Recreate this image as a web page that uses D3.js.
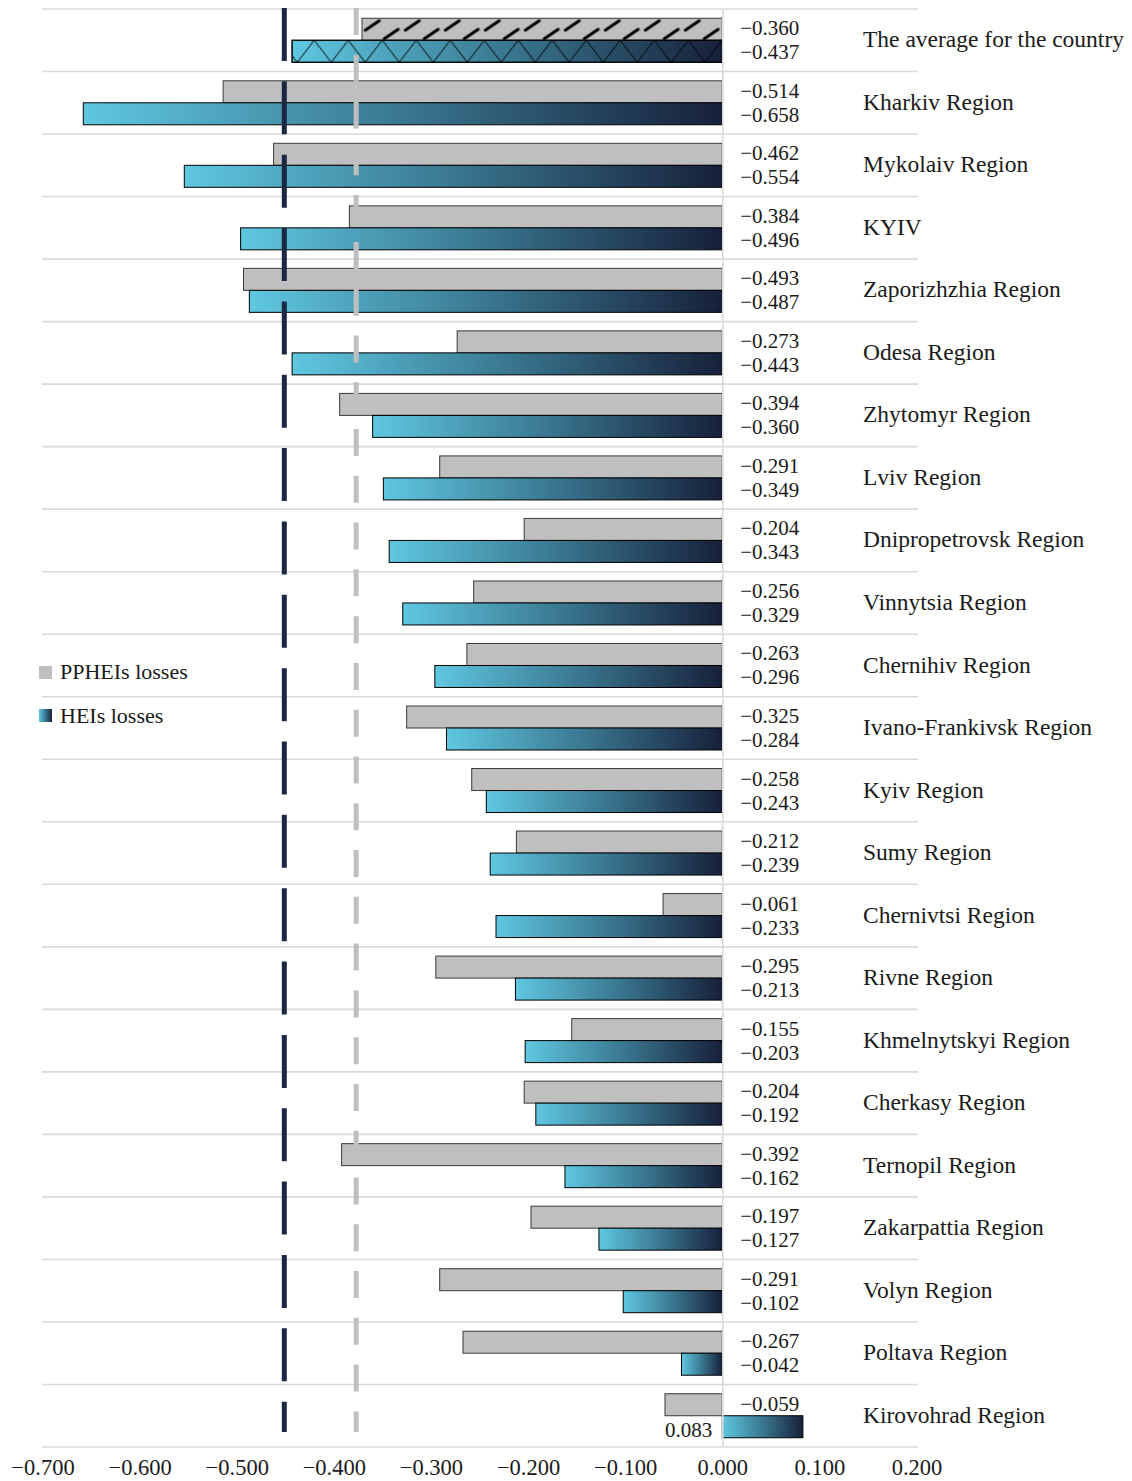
<!DOCTYPE html>
<html><head><meta charset="utf-8">
<script src="https://cdn.jsdelivr.net/npm/d3@7"></script>
<style>
body{margin:0;background:#fff}
svg{display:block}
text{font-family:"Liberation Serif",serif;fill:#1a1a1a}
</style>
</head><body>
<svg id="c" width="1132" height="1481"></svg>
<script>
const categories = ["The average for the country","Kharkiv Region","Mykolaiv Region","KYIV","Zaporizhzhia Region","Odesa Region","Zhytomyr Region","Lviv Region","Dnipropetrovsk Region","Vinnytsia Region","Chernihiv Region","Ivano-Frankivsk Region","Kyiv Region","Sumy Region","Chernivtsi Region","Rivne Region","Khmelnytskyi Region","Cherkasy Region","Ternopil Region","Zakarpattia Region","Volyn Region","Poltava Region","Kirovohrad Region"];
const ppheiValues = [-0.371,-0.514,-0.462,-0.384,-0.493,-0.273,-0.394,-0.291,-0.204,-0.256,-0.263,-0.325,-0.258,-0.212,-0.061,-0.295,-0.155,-0.204,-0.392,-0.197,-0.291,-0.267,-0.059];
const heiValues = [-0.443,-0.658,-0.554,-0.496,-0.487,-0.443,-0.360,-0.349,-0.343,-0.329,-0.296,-0.284,-0.243,-0.239,-0.233,-0.213,-0.203,-0.192,-0.162,-0.127,-0.102,-0.042,0.083];
const ppheiLabels = ["−0.360","−0.514","−0.462","−0.384","−0.493","−0.273","−0.394","−0.291","−0.204","−0.256","−0.263","−0.325","−0.258","−0.212","−0.061","−0.295","−0.155","−0.204","−0.392","−0.197","−0.291","−0.267","−0.059"];
const heiLabels = ["−0.437","−0.658","−0.554","−0.496","−0.487","−0.443","−0.360","−0.349","−0.343","−0.329","−0.296","−0.284","−0.243","−0.239","−0.233","−0.213","−0.203","−0.192","−0.162","−0.127","−0.102","−0.042","0.083"];
const refLineHEI = -0.451;
const refLinePPHEI = -0.377;
const xTicks = [-0.7,-0.6,-0.5,-0.4,-0.3,-0.2,-0.1,0,0.1,0.2];
const seriesNames = ["PPHEIs losses","HEIs losses"];

const svg = d3.select("#c");
const x = d3.scaleLinear().domain([-0.7,0.2]).range([42.5,916.5]);
const plotTop = 9, plotBottom = 1447;
const y = d3.scaleBand().domain(categories).range([plotTop,plotBottom]).padding(0);
const bw = y.bandwidth();
const sub = d3.scaleBand().domain(["pp","hei"]).range([(bw-44)/2,(bw-44)/2+44]).padding(0);
const bh = sub.bandwidth();

const defs = svg.append("defs");
const grad = defs.append("linearGradient").attr("id","heiGrad").attr("x1",0).attr("x2",1).attr("y1",0).attr("y2",0);
grad.append("stop").attr("offset","0%").attr("stop-color","#5fc7e0");
grad.append("stop").attr("offset","50%").attr("stop-color","#3a7790");
grad.append("stop").attr("offset","100%").attr("stop-color","#17203a");

const y0avg = y(categories[0]);
const hatch = defs.append("pattern").attr("id","hatch").attr("patternUnits","userSpaceOnUse")
  .attr("width",40).attr("height",bh).attr("x",x(0)).attr("y",y0avg+sub("pp"));
hatch.append("rect").attr("width",40).attr("height",bh).attr("fill","#bfbfbf");
hatch.append("line").attr("x1",3).attr("y1",12).attr("x2",17).attr("y2",2.5).attr("stroke","#000").attr("stroke-width",3).attr("stroke-linecap","round");
hatch.append("line").attr("x1",22).attr("y1",20.5).attr("x2",36).attr("y2",11).attr("stroke","#000").attr("stroke-width",3).attr("stroke-linecap","round");

const cross = defs.append("pattern").attr("id","cross").attr("patternUnits","userSpaceOnUse")
  .attr("width",34).attr("height",bh*2).attr("x",x(0)).attr("y",y0avg+sub("hei"));
cross.append("line").attr("x1",0).attr("y1",0).attr("x2",34).attr("y2",bh*2).attr("stroke","#000").attr("stroke-width",1);
cross.append("line").attr("x1",34).attr("y1",0).attr("x2",0).attr("y2",bh*2).attr("stroke","#000").attr("stroke-width",1);

const gridYs = categories.map(c=>y(c)).concat([plotBottom]);
svg.append("g").selectAll("line").data(gridYs).join("line")
  .attr("x1",42).attr("x2",918).attr("y1",d=>d).attr("y2",d=>d)
  .attr("stroke","#d9d9d9").attr("stroke-width",1.6);

const rows = categories.map((c,i)=>({c,i,pp:ppheiValues[i],hei:heiValues[i],ppl:ppheiLabels[i],heil:heiLabels[i]}));
const g = svg.append("g");
g.selectAll("rect.pp").data(rows).join("rect").attr("class","pp")
  .attr("x",d=>x(Math.min(0,d.pp))).attr("width",d=>Math.abs(x(d.pp)-x(0)))
  .attr("y",d=>y(d.c)+sub("pp")).attr("height",bh)
  .attr("fill",d=>d.i===0?"url(#hatch)":"#bfbfbf").attr("stroke","#3a3a3a").attr("stroke-width",1);
g.selectAll("rect.hei").data(rows).join("rect").attr("class","hei")
  .attr("x",d=>x(Math.min(0,d.hei))).attr("width",d=>Math.abs(x(d.hei)-x(0)))
  .attr("y",d=>y(d.c)+sub("hei")).attr("height",bh)
  .attr("fill","url(#heiGrad)").attr("stroke","#000").attr("stroke-width",1);
g.selectAll("rect.crossov").data(rows.filter(d=>d.i===0)).join("rect").attr("class","crossov")
  .attr("x",d=>x(Math.min(0,d.hei))).attr("width",d=>Math.abs(x(d.hei)-x(0)))
  .attr("y",d=>y(d.c)+sub("hei")).attr("height",bh)
  .attr("fill","url(#cross)").attr("stroke","#000").attr("stroke-width",1);

svg.append("line").attr("x1",x(0)+0.5).attr("x2",x(0)+0.5).attr("y1",plotTop).attr("y2",plotBottom)
  .attr("stroke","#d9d9d9").attr("stroke-width",1.6);

svg.append("line").attr("x1",x(refLineHEI)).attr("x2",x(refLineHEI)).attr("y1",8).attr("y2",1432)
  .attr("stroke","#1c2843").attr("stroke-width",5).attr("stroke-dasharray","53 20.35");
svg.append("line").attr("x1",x(refLinePPHEI)).attr("x2",x(refLinePPHEI)).attr("y1",8).attr("y2",1432)
  .attr("stroke","#bfbfbf").attr("stroke-width",5).attr("stroke-dasharray","27 19.78");

// value labels
const lab = svg.append("g").attr("font-size",21);
const labelX = v => v<0 ? x(0)+18 : x(0)-10;
rows.forEach(d=>{
  const yp = y(d.c)+sub("pp")+bh/2-1+7;
  const yh = y(d.c)+sub("hei")+bh/2+1+7;
  lab.append("text").attr("x",labelX(d.pp)).attr("y",d.pp<0?yp:yp+3)
    .attr("text-anchor",d.pp<0?"start":"end").text(d.ppl);
  lab.append("text").attr("x",labelX(d.hei)).attr("y",d.hei<0?yh:yh+2)
    .attr("text-anchor",d.hei<0?"start":"end").text(d.heil);
});

svg.append("g").selectAll("text").data(categories).join("text")
  .attr("x",863).attr("y",d=>y(d)+bw/2).attr("dy","0.3em").attr("font-size",23.5).text(d=>d);

const ax = svg.append("g").attr("transform",`translate(0,${plotBottom})`)
  .call(d3.axisBottom(x).tickValues(xTicks).tickSize(0).tickPadding(12).tickFormat(d3.format(".3f")));
ax.select(".domain").remove();
ax.selectAll("text").attr("font-size",22.5).attr("font-family","Liberation Serif").attr("fill","#1a1a1a");

const leg = svg.append("g");
leg.append("rect").attr("x",39).attr("y",666).attr("width",13).attr("height",13).attr("fill","#bfbfbf");
leg.append("rect").attr("x",39).attr("y",709).attr("width",13).attr("height",13).attr("fill","url(#heiGrad)");
leg.append("text").attr("x",60).attr("y",679).attr("font-size",22).text(seriesNames[0]);
leg.append("text").attr("x",60).attr("y",723).attr("font-size",22).text(seriesNames[1]);
</script>
</body></html>
